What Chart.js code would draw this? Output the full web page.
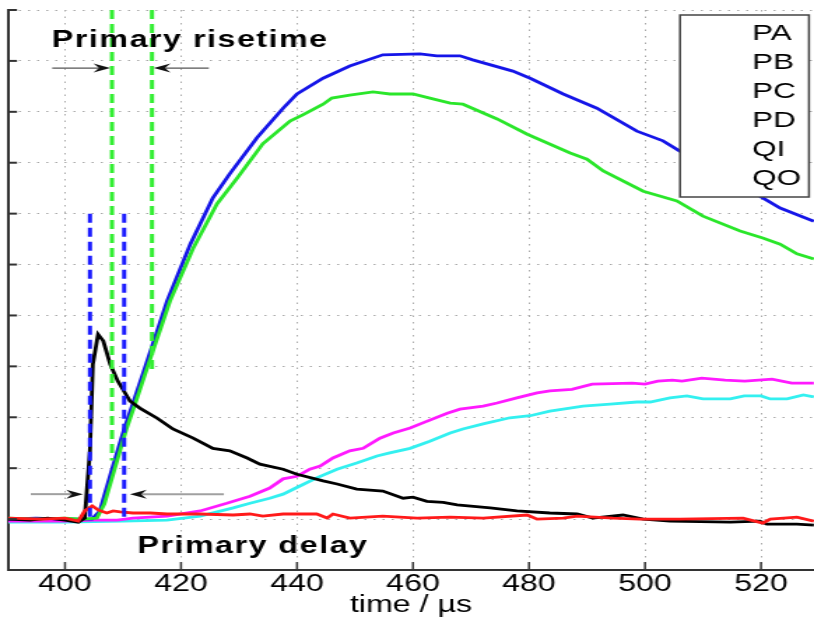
<!DOCTYPE html>
<html>
<head>
<meta charset="utf-8">
<script src="https://cdn.jsdelivr.net/npm/chart.js@4.4.0/dist/chart.umd.min.js"></script>
<style>
  html, body { margin: 0; padding: 0; background: #fff; overflow: hidden; }
  /* the original figure is stretched sideways, so the canvas is drawn narrow and widened */
  #chart { width: 814px !important; height: 617px !important; display: block; }
</style>
</head>
<body>
<canvas id="chart" width="582" height="617"></canvas>
<script>
const legendLabels = ['PA', 'PB', 'PC', 'PD', 'QI', 'QO'];
const xTicks = [400, 420, 440, 460, 480, 500, 520];
const yTicks = [-1, 0, 1, 2, 3, 4, 5, 6, 7, 8, 9, 10];

// PA (blue)
const paTime = [390.2, 395, 400, 403, 404.66, 406.0, 408.1, 410.2, 411.5, 414.1, 417.6, 421.6, 425.5, 428.4, 433.1, 437.6, 440.0, 444.5, 449.1, 454.8, 461.2, 464.1, 468.1, 470.3, 477.2, 480.2, 485.9, 491.7, 498.6, 503.1, 506.0, 513.0, 520.3, 523.3, 529.1];
const paValue = [0.0, 0.02, 0.0, 0.0, 0.0, 0.16, 0.98, 1.77, 2.2, 3.08, 4.28, 5.40, 6.31, 6.78, 7.49, 8.07, 8.35, 8.66, 8.90, 9.12, 9.14, 9.10, 9.10, 9.02, 8.80, 8.66, 8.35, 8.07, 7.62, 7.43, 7.23, 6.84, 6.31, 6.11, 5.85];

// PB (green)
const pbTime = [390.2, 395, 400, 403, 405.5, 406.8, 408.6, 410.6, 411.9, 414.5, 418.1, 422.1, 426.2, 429.7, 434.1, 438.8, 441.0, 444.5, 446.0, 449.1, 453.1, 456.0, 460.0, 462.9, 466.4, 468.6, 474.5, 479.7, 487.1, 490.0, 492.8, 499.7, 505.5, 510.0, 516.4, 520.3, 523.3, 526.2, 529.1];
const pbValue = [0.02, 0.0, 0.02, 0.0, 0.02, 0.3, 1.0, 1.77, 2.2, 3.08, 4.28, 5.32, 6.19, 6.70, 7.37, 7.82, 7.94, 8.15, 8.27, 8.33, 8.39, 8.35, 8.35, 8.27, 8.17, 8.15, 7.86, 7.56, 7.19, 7.07, 6.84, 6.44, 6.25, 5.95, 5.66, 5.52, 5.40, 5.21, 5.11];

// PC (magenta)
const pcTime = [390.2, 400, 405, 409.0, 411.7, 417.6, 423.3, 427.9, 431.9, 435.3, 437.6, 440.0, 442.2, 444.0, 446.2, 449.1, 451.4, 454.3, 456.6, 459.5, 461.7, 465.9, 468.1, 472.1, 474.5, 477.9, 481.4, 483.6, 487.4, 490.9, 497.8, 500.0, 502.2, 504.7, 506.4, 509.8, 513.8, 517.2, 521.9, 525.3, 529.1];
const pcValue = [-0.04, -0.04, -0.02, -0.02, 0.02, 0.06, 0.16, 0.31, 0.45, 0.61, 0.79, 0.84, 0.98, 1.04, 1.20, 1.34, 1.39, 1.59, 1.69, 1.79, 1.89, 2.08, 2.16, 2.22, 2.28, 2.38, 2.48, 2.52, 2.55, 2.65, 2.67, 2.65, 2.71, 2.73, 2.71, 2.77, 2.73, 2.71, 2.75, 2.67, 2.67];

// PD (cyan)
const pdTime = [390.2, 400, 410, 417.6, 423.3, 429.0, 431.9, 435.3, 437.6, 440.5, 443.4, 446.9, 450.3, 453.8, 456.0, 459.5, 462.9, 466.4, 468.6, 472.1, 476.7, 480.2, 483.6, 485.9, 489.3, 494.0, 498.6, 500.9, 504.3, 507.2, 510.0, 514.7, 517.1, 520.0, 521.6, 524.5, 527.3, 529.1];
const pdValue = [-0.06, -0.06, -0.04, -0.02, 0.06, 0.22, 0.31, 0.41, 0.49, 0.65, 0.81, 0.98, 1.10, 1.24, 1.30, 1.39, 1.53, 1.69, 1.77, 1.87, 1.99, 2.03, 2.12, 2.16, 2.22, 2.26, 2.30, 2.30, 2.38, 2.42, 2.36, 2.36, 2.42, 2.42, 2.36, 2.36, 2.44, 2.40];

// QI (black)
const qiTime = [390.2, 394, 397, 400, 402.3, 403.4, 404.3, 404.8, 405.7, 406.6, 407.8, 409.1, 411.2, 412.9, 415.9, 418.6, 422.1, 425.5, 428.4, 431.4, 433.6, 437.6, 440.0, 444.5, 446.9, 450.3, 454.8, 458.3, 460.0, 462.4, 465.2, 467.6, 473.3, 477.9, 483.6, 488.3, 491.0, 496.2, 499.7, 504.3, 514.7, 519.8, 521.0, 526.2, 529.1];
const qiValue = [0.0, -0.02, 0.02, -0.02, -0.06, 0.02, 1.34, 3.04, 3.63, 3.50, 3.04, 2.71, 2.32, 2.18, 1.98, 1.77, 1.59, 1.39, 1.34, 1.20, 1.08, 0.98, 0.88, 0.75, 0.69, 0.59, 0.55, 0.41, 0.43, 0.35, 0.33, 0.28, 0.22, 0.16, 0.12, 0.10, 0.02, 0.08, 0.0, -0.04, -0.06, -0.04, -0.10, -0.10, -0.12];

// QO (red)
const qoTime = [390.2, 396, 400, 402.3, 403.4, 404.7, 405.7, 407.2, 408.3, 409.5, 411.7, 414.7, 417.6, 423.3, 429.0, 431.9, 434.1, 437.6, 443.4, 445.2, 446.2, 449.1, 454.8, 460.7, 466.4, 472.1, 479.7, 481.4, 485.9, 488.3, 494.5, 499.1, 506.0, 516.9, 520.3, 521.6, 526.2, 529.1];
const qoValue = [0.02, 0.0, 0.02, -0.04, 0.16, 0.26, 0.18, 0.12, 0.16, 0.14, 0.12, 0.12, 0.10, 0.10, 0.08, 0.10, 0.06, 0.10, 0.10, 0.02, 0.10, 0.02, 0.06, 0.02, 0.04, 0.02, 0.08, 0.0, 0.02, 0.06, 0.02, 0.0, 0.0, 0.02, -0.08, 0.0, 0.04, -0.04];

// marker lines: delay (blue dashed) and risetime (green dashed)
const delayLineTime = [404.3, 410.2];
const delayLineTop = [6.0, 6.0];
const delayLineBottom = [0, 0];
const riseLineTime = [408.1, 415.0];
const riseLineTop = [10, 10];
const riseLineBottom = [1.15, 2.95];

// arrows and labels (data units)
const riseArrowLevel = 8.86;
const riseArrows = [[397.8, 407.8], [424.8, 415.3]];
const delayArrowLevel = 0.49;
const delayArrows = [[394.1, 403.1], [427.4, 411.2]];
const riseLabel = { text: 'Primary risetime', time: 421.6, value: 9.39 };
const delayLabel = { text: 'Primary delay', time: 432.4, value: -0.54 };

const FONT = '"Liberation Sans", Arial, Helvetica, sans-serif';
Chart.defaults.font.family = FONT;

function pts(ts, vs) {
  return ts.map((t, i) => ({ x: t, y: vs[i] }));
}

function curve(label, ts, vs, color) {
  return {
    label, data: pts(ts, vs), borderColor: color, borderWidth: 2.8,
    pointRadius: 0, tension: 0, fill: false, inLegend: true
  };
}

function marker(t, top, bottom, color) {
  return {
    label: '', data: [{ x: t, y: top }, { x: t, y: bottom }], borderColor: color,
    borderWidth: 3, borderDash: [9, 5], pointRadius: 0, fill: false, inLegend: false
  };
}

const datasets = [
  marker(riseLineTime[0], riseLineTop[0], riseLineBottom[0], '#33ee33'),
  marker(riseLineTime[1], riseLineTop[1], riseLineBottom[1], '#33ee33'),
  marker(delayLineTime[0], delayLineTop[0], delayLineBottom[0], '#1a1aff'),
  marker(delayLineTime[1], delayLineTop[1], delayLineBottom[1], '#1a1aff'),
  curve(legendLabels[5], qoTime, qoValue, '#ff1a1a'),
  curve(legendLabels[4], qiTime, qiValue, '#000000'),
  curve(legendLabels[1], pbTime, pbValue, '#2ae62a'),
  curve(legendLabels[0], paTime, paValue, '#1515e8'),
  curve(legendLabels[2], pcTime, pcValue, '#ff1aff'),
  curve(legendLabels[3], pdTime, pdValue, '#33f0f0')
];

function drawArrow(ctx, xs, ys, from, to, level, lineColor, lineWidth) {
  const x1 = xs.getPixelForValue(from);
  const x2 = xs.getPixelForValue(to);
  const py = ys.getPixelForValue(level);
  const dir = Math.sign(x2 - x1);
  ctx.strokeStyle = lineColor;
  ctx.lineWidth = lineWidth;
  ctx.beginPath();
  ctx.moveTo(x1, py);
  ctx.lineTo(x2 - dir * 8, py);
  ctx.stroke();
  ctx.fillStyle = '#111';
  ctx.beginPath();
  ctx.moveTo(x2, py);
  ctx.lineTo(x2 - dir * 12, py - 4.5);
  ctx.lineTo(x2 - dir * 8, py);
  ctx.lineTo(x2 - dir * 12, py + 4.5);
  ctx.closePath();
  ctx.fill();
}

const decorPlugin = {
  id: 'decor',
  afterDraw(chart) {
    const { ctx, chartArea: area } = chart;
    const xs = chart.scales.x, ys = chart.scales.y;
    ctx.save();

    // inward tick marks on the left and bottom axes
    ctx.strokeStyle = '#333';
    ctx.lineWidth = 2;
    yTicks.forEach(v => {
      const py = ys.getPixelForValue(v);
      ctx.beginPath();
      ctx.moveTo(area.left, py);
      ctx.lineTo(area.left + 6.5, py);
      ctx.stroke();
    });
    ctx.lineWidth = 1.5;
    xTicks.forEach(v => {
      const px = xs.getPixelForValue(v);
      ctx.beginPath();
      ctx.moveTo(px, area.bottom);
      ctx.lineTo(px, area.bottom - 8);
      ctx.stroke();
    });

    // arrows
    riseArrows.forEach(a => drawArrow(ctx, xs, ys, a[0], a[1], riseArrowLevel, '#555', 1.2));
    delayArrows.forEach(a => drawArrow(ctx, xs, ys, a[0], a[1], delayArrowLevel, '#a0a0a0', 2));

    // labels
    ctx.fillStyle = '#000';
    ctx.font = 'bold 23px ' + FONT;
    ctx.letterSpacing = '1.1px';
    ctx.textAlign = 'center';
    ctx.textBaseline = 'middle';
    [riseLabel, delayLabel].forEach(l => {
      ctx.fillText(l.text, xs.getPixelForValue(l.time), ys.getPixelForValue(l.value));
    });
    ctx.letterSpacing = '0px';

    // legend box (text only)
    const boxL = area.right - 95.8, boxT = area.top + 5, boxW = 92.2, boxH = 182;
    ctx.fillStyle = '#fff';
    ctx.fillRect(boxL, boxT, boxW, boxH);
    ctx.strokeStyle = '#444';
    ctx.lineWidth = 1.5;
    ctx.strokeRect(boxL, boxT, boxW, boxH);
    ctx.fillStyle = '#000';
    ctx.font = '22.5px ' + FONT;
    ctx.textAlign = 'left';
    legendLabels.forEach((lab, i) => {
      ctx.fillText(lab, area.right - 44.3, area.top + 24 + i * 29);
    });

    ctx.restore();
  }
};

new Chart(document.getElementById('chart'), {
  type: 'line',
  data: { datasets },
  options: {
    responsive: false,
    devicePixelRatio: 1,
    animation: false,
    layout: { padding: { top: 10, left: 0, right: 0, bottom: 0 } },
    plugins: { legend: { display: false }, tooltip: { enabled: false } },
    scales: {
      x: {
        type: 'linear', min: 390.17, max: 529.14,
        afterBuildTicks: axis => { axis.ticks = xTicks.map(v => ({ value: v })); },
        afterFit: axis => { axis.height = 47; },
        grid: { color: '#a8a8a8', lineWidth: 1, drawTicks: false },
        border: { display: true, color: '#333', width: 2, dash: [1.5, 5] },
        ticks: { color: '#000', font: { size: 23 }, padding: 1, maxRotation: 0, autoSkip: false },
        title: { display: true, text: 'time / µs', color: '#000', font: { size: 23 }, padding: { top: 0, bottom: -2 } }
      },
      y: {
        type: 'linear', min: -1, max: 10,
        afterBuildTicks: axis => { axis.ticks = yTicks.map(v => ({ value: v })); },
        afterFit: axis => { axis.width = 5.7; },
        grid: { color: '#a8a8a8', lineWidth: 1, drawTicks: false },
        border: { display: true, color: '#333', width: 2, dash: [1.5, 5] },
        ticks: { display: false }
      }
    }
  },
  plugins: [decorPlugin]
});
</script>
</body>
</html>
